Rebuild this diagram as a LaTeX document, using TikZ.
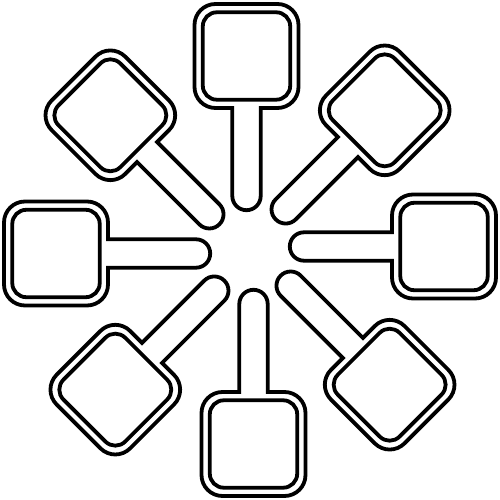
\documentclass[tikz,border=0pt]{standalone}
\usetikzlibrary{calc}
\tikzset{%
    paddle/.style = {draw, line width=0.76mm, fill=white},
    pad/.style    = {draw, line width=0.76mm, rounded corners=2.8mm},
}
\begin{document}
\begin{tikzpicture}[x=0.2mm, y=0.2mm]
    % We start by fixing the frame and the hub
    \useasboundingbox (0,0) rectangle (500,500);
    \coordinate (hub) at (250,250);

    % one paddle (handle + outer frame, then the inner square) per direction
    \foreach \a in {0,45,...,315}{
        \begin{scope}[shift={(hub)}, rotate=\a, shift={(0,3.5)}]
            \draw[paddle] (142,14.2) -- (54,14.2)
                arc[start angle=90, end angle=270, radius=14.2]
                -- (142,-14.2) -- (142,-31)
                arc[start angle=180, end angle=270, radius=21]
                -- (225,-52)
                arc[start angle=270, end angle=360, radius=21]
                -- (246,31)
                arc[start angle=0, end angle=90, radius=21]
                -- (163,52)
                arc[start angle=90, end angle=180, radius=21]
                -- cycle;
            \draw[pad] (150.3,-43.7) rectangle (237.7,43.7);
        \end{scope}
    }
\end{tikzpicture}
\end{document}
